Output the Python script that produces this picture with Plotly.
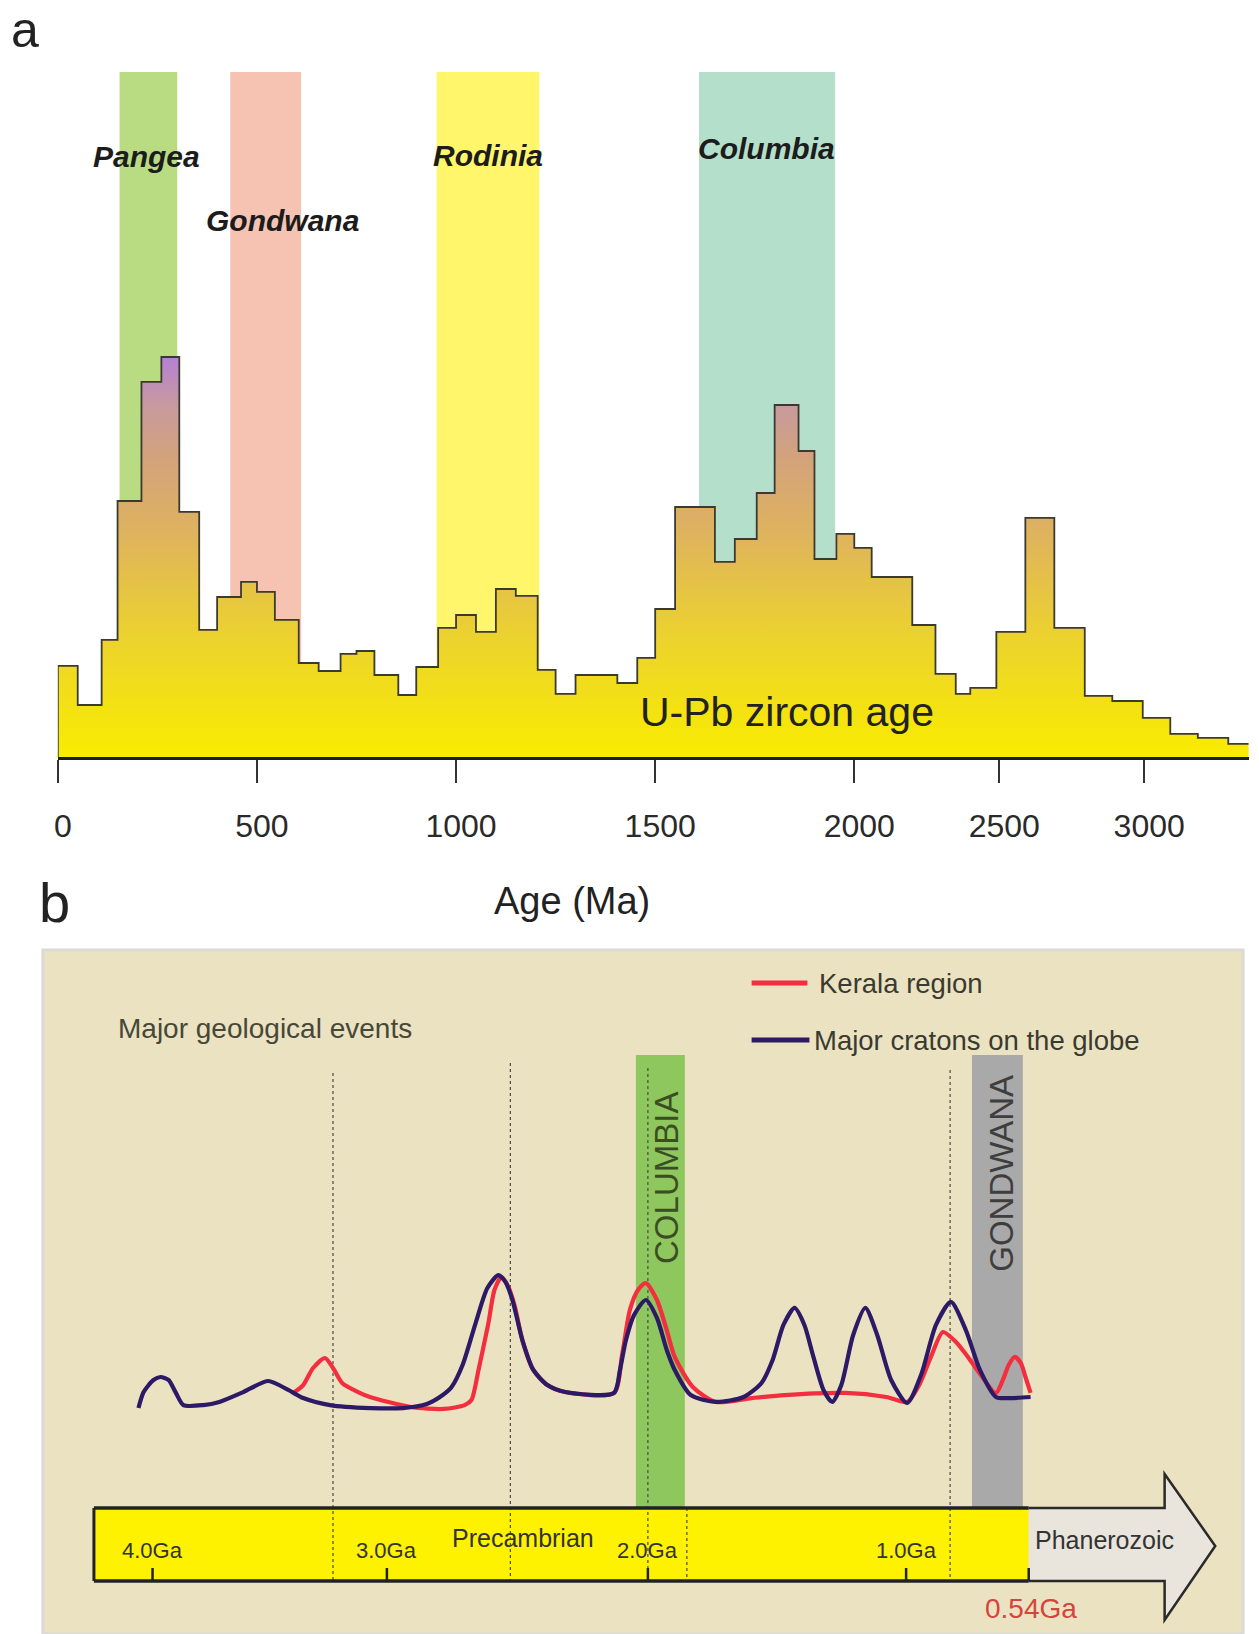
import numpy as np
import plotly.graph_objects as go

W, H = 1259, 1634
FONT = "Liberation Sans, Arial, sans-serif"

# ---------------- panel a: U-Pb zircon age histogram ----------------
bin_edges_ma = [0, 50, 110, 150, 210, 260, 305, 355, 400, 460, 500, 545, 605, 655, 710,
                750, 795, 855, 900, 955, 1000, 1050, 1100, 1150, 1205, 1250, 1300, 1405,
                1455, 1500, 1550, 1650, 1700, 1755, 1800, 1860, 1900, 1955, 2000, 2060,
                2200, 2280, 2350, 2400, 2490, 2590, 2690, 2795, 2890, 2995, 3090, 3185,
                3290, 3360]
zircon_freq = [22.8, 13.0, 29.3, 64.0, 93.8, 100.0, 61.3, 31.8, 40.0, 43.8, 41.3, 34.3,
               23.5, 21.5, 25.8, 26.5, 20.5, 15.5, 22.5, 32.3, 35.5, 31.3, 42.0, 40.3,
               21.8, 15.8, 20.5, 18.5, 24.8, 37.0, 62.5, 48.8, 54.5, 66.0, 88.0, 76.5,
               49.5, 55.8, 52.3, 45.0, 33.0, 20.8, 15.8, 17.3, 31.3, 59.8, 32.3, 15.3,
               14.0, 9.8, 5.8, 4.8, 3.3]

supercontinents = ["Pangea", "Gondwana", "Rodinia", "Columbia"]
super_start_ma = [155, 433, 951, 1610]
super_end_ma = [300, 611, 1209, 1952]
super_colors = ["#b9dc82", "#f6c3b3", "#fff66c", "#b4dfcb"]

age_ticks_ma = [0, 500, 1000, 1500, 2000, 2500, 3000]

# the axis is stretched below 2000 Ma and compressed above it
ARCHEAN_SQUEEZE = 0.728


def deep_time(age_ma):
    a = np.asarray(age_ma, dtype=float)
    return np.where(a <= 2000, a, 2000 + (a - 2000) * ARCHEAN_SQUEEZE)


# ---------------- panel b: age spectra against the geological timeline ----------------
kerala_ga = [3.400, 3.357, 3.315, 3.264, 3.230, 3.191, 3.123, 3.072, 2.908, 2.782, 2.702,
             2.676, 2.649, 2.611, 2.588, 2.561, 2.538, 2.511, 2.481, 2.439, 2.385, 2.317,
             2.130, 2.099, 2.069, 2.038, 2.008, 1.965, 1.927, 1.896, 1.826, 1.737, 1.598,
             1.471, 1.236, 1.077, 0.996, 0.951, 0.907, 0.862, 0.813, 0.768, 0.720, 0.663,
             0.637, 0.615, 0.592, 0.570, 0.551, 0.533]
kerala_rel = [13.1, 19.2, 32.3, 40.0, 32.3, 20.8, 13.8, 10.0, 2.3, 0.8, 3.8,
              7.7, 30.8, 66.9, 92.3, 102.3, 96.2, 80.8, 53.8, 30.8, 19.2, 13.8,
              13.1, 42.3, 76.9, 92.3, 97.7, 84.6, 61.5, 40.8, 17.7, 6.2, 9.2,
              11.5, 13.1, 10.0, 6.2, 19.2, 40.8, 60.0, 52.3, 40.8, 26.9, 13.1,
              23.1, 34.6, 40.8, 36.2, 24.6, 13.1]

craton_ga = [4.060, 4.038, 3.996, 3.966, 3.932, 3.902, 3.868, 3.783, 3.715, 3.613, 3.506,
             3.421, 3.357, 3.243, 3.072, 2.939, 2.847, 2.786, 2.752, 2.710, 2.660, 2.615,
             2.573, 2.546, 2.519, 2.481, 2.439, 2.385, 2.317, 2.130, 2.107, 2.084, 2.053,
             2.008, 1.965, 1.927, 1.896, 1.834, 1.737, 1.629, 1.560, 1.517, 1.475, 1.432,
             1.394, 1.359, 1.320, 1.286, 1.251, 1.205, 1.158, 1.112, 1.058, 0.996, 0.944,
             0.888, 0.832, 0.776, 0.723, 0.663, 0.607, 0.533]
craton_rel = [1.5, 13.8, 23.1, 25.4, 23.1, 13.8, 3.8, 3.8, 6.2, 13.8, 22.3,
              15.4, 9.2, 3.8, 1.5, 1.5, 4.6, 11.5, 17.7, 34.6, 66.9, 93.8,
              103.8, 98.5, 84.6, 53.8, 30.8, 19.2, 13.8, 13.1, 30.8, 53.8, 73.1,
              84.6, 70.8, 46.2, 30.8, 11.5, 6.2, 10.0, 20.8, 38.5, 65.4, 78.5,
              65.4, 40.8, 15.4, 6.2, 19.2, 57.7, 78.5, 57.7, 23.1, 5.4, 26.9,
              65.4, 83.1, 61.5, 30.8, 10.0, 9.2, 10.0]

event_lines_ga = [3.23, 2.527, 2.0, 0.835]
columbia_ga = (2.046, 1.857)
gondwana_ga = (0.753, 0.562)
timeline_ticks_ga = [4.0, 3.0, 2.0, 1.0]
phanerozoic_start_ga = 0.54

# timeline scale: the drawn timeline is not evenly spaced between the Ga marks
TIMELINE_GA = np.array([4.0, 3.0, 2.0, 1.0, 0.54])
TIMELINE_POS = np.array([4.0, 3.067, 2.028, 1.0, 0.512])


def timeline(ga):
    g = np.atleast_1d(np.asarray(ga, dtype=float))
    pos = np.interp(-g, -TIMELINE_GA, TIMELINE_POS)
    old = g > 4.0
    pos[old] = 4.0 + (g[old] - 4.0) * 0.933
    young = g < 0.54
    pos[young] = 0.512 + (g[young] - 0.54) * (0.488 / 0.46)
    return pos


def tl(ga):
    return float(timeline(ga)[0])


# page helpers for decorations placed in paper space
def fx(px):
    return px / W


def fy(py):
    return 1 - py / H


fig = go.Figure()

# histogram (step outline with a height-dependent gradient fill)
edges_u = deep_time(bin_edges_ma)
hx = [edges_u[0]] + list(edges_u[:-1]) + [edges_u[-1]]
hy = [0] + list(zircon_freq) + [zircon_freq[-1]]
fig.add_trace(go.Scatter(
    x=hx, y=hy, mode="lines", line=dict(shape="hv", color="#3b3a30", width=1.8),
    fill="tozeroy",
    fillgradient=dict(type="vertical", start=0, stop=100,
                      colorscale=[[0.0, "#f9ec00"], [0.3, "#ecd22e"], [0.55, "#dfb45c"],
                                  [0.75, "#d3a27c"], [0.88, "#c79a9e"], [1.0, "#b680d4"]]),
    xaxis="x", yaxis="y", showlegend=False, hoverinfo="skip"))

# age spectra
fig.add_trace(go.Scatter(
    x=timeline(kerala_ga), y=kerala_rel, mode="lines", name="Kerala region",
    line=dict(color="#f42d3f", width=4.2, shape="spline", smoothing=0.7),
    xaxis="x2", yaxis="y2", showlegend=False))
fig.add_trace(go.Scatter(
    x=timeline(craton_ga), y=craton_rel, mode="lines", name="Major cratons on the globe",
    line=dict(color="#2d1a66", width=4.2, shape="spline", smoothing=0.7),
    xaxis="x2", yaxis="y2", showlegend=False))

shapes = []
# supercontinent bands behind the histogram
for s, e, c in zip(super_start_ma, super_end_ma, super_colors):
    shapes.append(dict(type="rect", xref="x", yref="y domain",
                       x0=float(deep_time(s)), x1=float(deep_time(e)), y0=0, y1=1,
                       fillcolor=c, line=dict(width=0), layer="below"))

# panel b background
shapes.append(dict(type="rect", xref="paper", yref="paper", x0=fx(39), x1=fx(1243),
                   y0=fy(1634), y1=fy(950), fillcolor="#ebe2c1",
                   line=dict(color="#dcdad6", width=3), layer="below"))

# Columbia and Gondwana assembly bands
shapes.append(dict(type="rect", xref="x2", yref="paper",
                   x0=tl(columbia_ga[0]), x1=tl(columbia_ga[1]), y0=fy(1508), y1=fy(1055),
                   fillcolor="#8dc75e", line=dict(width=0), layer="below"))
shapes.append(dict(type="rect", xref="x2", yref="paper",
                   x0=tl(gondwana_ga[0]), x1=tl(gondwana_ga[1]), y0=fy(1508), y1=fy(1055),
                   fillcolor="#a9a9a9", line=dict(width=0), layer="below"))

# Precambrian bar
bar_top, bar_bot = fy(1508), fy(1581)
shapes.append(dict(type="rect", xref="x2", yref="paper", x0=tl(4.25), x1=tl(phanerozoic_start_ga),
                   y0=bar_bot, y1=bar_top, fillcolor="#fff200", line=dict(width=0), layer="below"))

# Phanerozoic arrow
a0, a1, a2 = tl(phanerozoic_start_ga), tl(0.03), tl(-0.16)
shapes.append(dict(type="path", xref="x2", yref="paper",
                   path=(f"M{a0},{bar_top} L{a1},{bar_top} L{a1},{fy(1474)} "
                         f"L{a2},{fy(1546)} L{a1},{fy(1620)} L{a1},{bar_bot} L{a0},{bar_bot}"),
                   fillcolor="#e9e5dc", line=dict(color="#2a2a2a", width=2.5), layer="below"))

# dotted event lines
event_tops = [1073, 1063, 1068, 1070]
for g, t in zip(event_lines_ga, event_tops):
    shapes.append(dict(type="line", xref="x2", yref="paper", x0=tl(g), x1=tl(g),
                       y0=fy(t), y1=bar_bot, line=dict(color="#4a4a4a", width=1.2, dash="dot"),
                       layer="below"))
shapes.append(dict(type="line", xref="x2", yref="paper", x0=tl(1.849), x1=tl(1.849),
                   y0=bar_top, y1=bar_bot, line=dict(color="#4a4a4a", width=1.2, dash="dot"),
                   layer="below"))

# bar borders
for yy in (bar_top, bar_bot):
    shapes.append(dict(type="line", xref="x2", yref="paper", x0=tl(4.25), x1=a0,
                       y0=yy, y1=yy, line=dict(color="#222222", width=3.5)))
shapes.append(dict(type="line", xref="x2", yref="paper", x0=tl(4.25), x1=tl(4.25),
                   y0=bar_bot, y1=bar_top, line=dict(color="#222222", width=3)))

# timeline ticks
for g in timeline_ticks_ga + [phanerozoic_start_ga]:
    shapes.append(dict(type="line", xref="x2", yref="paper", x0=tl(g), x1=tl(g),
                       y0=bar_bot, y1=fy(1568), line=dict(color="#222222", width=2.5)))

# legend samples
shapes.append(dict(type="line", xref="paper", yref="paper", x0=fx(750), x1=fx(806),
                   y0=fy(983), y1=fy(983), line=dict(color="#f42d3f", width=5)))
shapes.append(dict(type="line", xref="paper", yref="paper", x0=fx(750), x1=fx(808),
                   y0=fy(1040), y1=fy(1040), line=dict(color="#2d1a66", width=5)))

ann = []


def text(t, x, y, size, color="#222222", xanchor="center", xref="paper", angle=0,
         yanchor="middle"):
    ann.append(dict(text=t, x=x if xref != "paper" else fx(x), y=fy(y), xref=xref, yref="paper",
                    xanchor=xanchor, yanchor=yanchor, showarrow=False, textangle=angle,
                    font=dict(family=FONT, size=size, color=color)))


text("a", 5, 0, 50, "#222222", xanchor="left", yanchor="top")
text("b", 33, 902, 56, "#222222", xanchor="left")

label_pos = [(143, 157), (279, 220), (486, 155), (765, 148)]
for name, (lx, ly) in zip(supercontinents, label_pos):
    text(f"<b><i>{name}</i></b>", lx, ly, 30, "#1c1c1c")

text("U-Pb zircon age", 785, 712, 41, "#222222")
text("Age (Ma)", 570, 901, 38, "#222222")

text("Major geological events", 112, 1028, 28, "#474738", xanchor="left")
text("Kerala region", 816, 983, 27.5, "#3a3a30", xanchor="left")
text("Major cratons on the globe", 811, 1040, 27.5, "#3a3a30", xanchor="left")

text("COLUMBIA", tl(1.93), 1178, 33, "#3b4d22", xref="x2", angle=-90)
text("GONDWANA", tl(0.645), 1173, 33, "#3e3e3e", xref="x2", angle=-90)

for g in timeline_ticks_ga:
    text(f"{g:.1f}Ga", tl(g), 1550, 22, "#333333", xref="x2")
text("Precambrian", 521, 1538, 25, "#333333")
text("Phanerozoic", 1104, 1540, 25, "#333333")
text(f"{phanerozoic_start_ga:.2f}Ga", tl(phanerozoic_start_ga) - 0.01, 1608, 28, "#d6443f", xref="x2")

fig.update_layout(
    width=W, height=H, margin=dict(l=0, r=0, t=0, b=0),
    paper_bgcolor="white", plot_bgcolor="rgba(0,0,0,0)",
    font=dict(family=FONT),
    xaxis=dict(domain=[fx(54), fx(1249)], range=[0, (1249 - 54) / 0.3995], anchor="y",
               showgrid=False, zeroline=False, showline=True, linecolor="#1e1e1e", linewidth=3,
               ticks="outside", ticklen=23, tickwidth=2, tickcolor="#333333",
               tickvals=list(deep_time(age_ticks_ma)), ticktext=[str(t) for t in age_ticks_ma],
               tickfont=dict(family=FONT, size=32, color="#2a2a2a"),
               ticklabelstandoff=16, ticklabelshift=5),
    yaxis=dict(domain=[fy(757), fy(72)], range=[0, (757 - 72) / 4], visible=False, anchor="x"),
    xaxis2=dict(domain=[0, 1], range=[4.0 + 149 / 252, 4.0 - (W - 149) / 252], anchor="y2",
                visible=False),
    yaxis2=dict(domain=[0, fy(950)], range=[(1410 - 1634) / 1.3, (1410 - 950) / 1.3],
                anchor="x2", visible=False),
    shapes=shapes, annotations=ann, showlegend=False,
)

fig.write_html("out.html")
